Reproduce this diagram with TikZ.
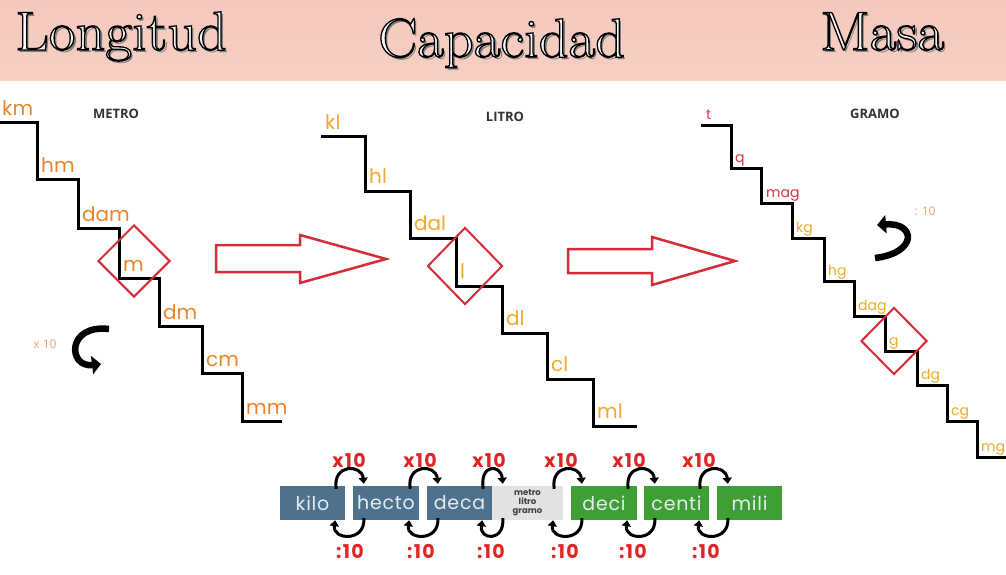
\documentclass[tikz,border=0pt]{standalone}
\usepackage{fontspec}
\usetikzlibrary{shapes.geometric,arrows.meta,calc}
\newfontfamily\labfont{Poppins}
\newfontfamily\boxfont[LetterSpace=4]{Poppins}
\newfontfamily\factorfont[LetterSpace=7]{Poppins}
\newfontfamily\capfont{Open Sans}
\newfontfamily\headfont[FakeStretch=1.06]{Latin Modern Roman}

\definecolor{banner}{RGB}{247,207,196}
\definecolor{bannertop}{RGB}{245,200,188}
\definecolor{lorange}{RGB}{234,132,42}
\definecolor{lyellow}{RGB}{240,168,48}
\definecolor{myellow}{RGB}{232,172,40}
\definecolor{mred}{RGB}{214,52,64}
\definecolor{pale}{RGB}{242,160,96}
\definecolor{arrred}{RGB}{212,44,56}
\definecolor{bluebox}{RGB}{78,114,142}
\definecolor{greenbox}{RGB}{62,160,52}
\definecolor{graybox}{RGB}{226,226,226}
\definecolor{boxtext}{RGB}{228,236,240}
\definecolor{factor}{RGB}{226,36,36}
\definecolor{shadowgray}{RGB}{125,125,125}
\definecolor{titlefill}{RGB}{246,246,246}

% engraved lettering: grey drop shadow, then white fill stroked in black
\newcommand{\engraved}[1]{%
  \rlap{\hspace{2.5pt}\raisebox{-2.5pt}{\color{shadowgray}#1}}%
  {\color{titlefill}%
  \special{pdf:literal direct 2 Tr 1.3 w 0 0 0 RG}#1%
  \special{pdf:literal direct 0 Tr}}}

\begin{document}
\begin{tikzpicture}[x=1pt,y=-1pt,
  headtxt/.style={anchor=base west,inner sep=0,font=\headfont\fontsize{55}{55}\selectfont},
  stair/.style={line width=3,black,line join=miter},
  biglbl/.style={anchor=base west,inner sep=0,font=\labfont\fontsize{20}{20}\selectfont},
  smalllbl/.style={anchor=base west,inner sep=0,font=\labfont\fontsize{14}{14}\selectfont},
  unitname/.style={inner sep=0,font=\capfont\bfseries\fontsize{13}{13}\selectfont,text=black!80},
  unitmark/.style={diamond,draw=arrred,line width=2,inner sep=0,aspect=1},
  hollow/.style={draw=arrred,line width=2.5,fill=white,line join=miter},
  bigturn/.style={line width=6.5,black,-{Triangle[length=9,width=18]}},
  prefixbox/.style={minimum width=65,minimum height=34,inner sep=0,
    font=\boxfont\fontsize{19}{19}\selectfont,text=boxtext},
  turnarc/.style={line width=3,black,-{Triangle[length=6,width=9]}},
  factorlbl/.style={inner sep=0,font=\factorfont\bfseries\fontsize{19}{19}\selectfont,text=factor},
  notelbl/.style={inner sep=0,font=\capfont\fontsize{12}{12}\selectfont,text=pale}]

\useasboundingbox (0,0) rectangle (1006,575);
\fill[white] (0,0) rectangle (1006,575);

% heading band
\shade[top color=bannertop,bottom color=banner] (0,0) rectangle (1006,81);
\foreach \t/\x/\y in {Longitud/15/50,Capacidad/378/57,Masa/820/50}
  \node[headtxt] (title-\t) at (\x,\y) {\engraved{\t}};

% ---- length: metre staircase
\draw[stair] (0,123) -| (37,179) -| (78,228) -| (119,278) -| (159,326)
  -| (202,373) -| (242,421) -- (282,421);
\foreach \u/\x/\y in {km/2/116,hm/41/172,dam/82/221,m/123/271,dm/163/319,cm/206/366,mm/246/414}
  \node[biglbl,text=lorange] (len-\u) at (\x,\y) {\u};
\node[unitname] (metro) at (116,114) {METRO};
\node[unitmark,minimum width=72,minimum height=72] (mark-m) at (134,261) {};
\node[notelbl] (x10note) at (45,344) {x 10};
\coordinate (up-a) at (109,329);
\coordinate (up-b) at (101,364);
\draw[bigturn] (up-a) .. controls (66,324) and (68,368) .. (up-b);

% hollow arrow between the groups
\draw[hollow] (216,245) -- (300,245) -- (300,235) -- (386,259) -- (300,283)
  -- (300,272) -- (216,272) -- cycle;

% ---- capacity: litre staircase
\draw[stair] (321,137) -| (365,191) -| (410,238) -| (456,286) -| (502,333)
  -| (547,379) -| (593,426) -- (637,426);
\foreach \u/\x/\y in {kl/325/129,hl/369/183,dal/414/230,l/460/278,dl/506/325,cl/551/371,ml/597/418}
  \node[biglbl,text=lyellow] (cap-\u) at (\x,\y) {\u};
\node[unitname] (litro) at (505,117) {LITRO};
\node[unitmark,minimum width=75,minimum height=77] (mark-l) at (465,266) {};

\draw[hollow] (568,249) -- (652,249) -- (652,237) -- (735,261) -- (652,285)
  -- (652,273) -- (568,273) -- cycle;

% ---- mass: gram staircase
\draw[stair] (701,126) -| (731,168) -| (761,203) -| (792,238) -| (824,281)
  -| (854,316) -| (885,351) -| (917,385) -| (947,421) -| (977,457) -- (1006,457);
\foreach \u/\x/\y in {t/706/120,q/735/162,mag/766/197}
  \node[smalllbl,text=mred] (mass-\u) at (\x,\y) {\u};
\foreach \u/\x/\y in {kg/796/232,hg/828/275,dag/858/310,g/889/345,dg/921/379,cg/951/415,mg/981/451}
  \node[smalllbl,text=myellow] (mass-\u) at (\x,\y) {\u};
\node[unitname] (gramo) at (875,114) {GRAMO};
\node[unitmark,minimum width=66,minimum height=67] (mark-g) at (894,341) {};
\node[notelbl] (div10note) at (925,211) {: 10};
\coordinate (dn-a) at (875,258);
\coordinate (dn-b) at (877,225);
\draw[bigturn] (dn-a) .. controls (918,253) and (916,222) .. (dn-b);

% ---- prefix strip
\node[prefixbox,fill=bluebox] (kilo) at (312.5,503) {kilo};
\node[prefixbox,fill=bluebox,minimum width=66] (hecto) at (386,503) {hecto};
\node[prefixbox,fill=bluebox] (deca) at (459.5,503) {deca};
\node[prefixbox,fill=graybox,minimum width=71,align=center,text=black!75,
  font=\labfont\bfseries\fontsize{8.5}{9}\selectfont] (base) at (527.5,503) {metro\\litro\\gramo};
\node[prefixbox,fill=greenbox,minimum width=66] (deci) at (604,503) {deci};
\node[prefixbox,fill=greenbox] (centi) at (676.5,503) {centi};
\node[prefixbox,fill=greenbox] (mili) at (749.5,503) {mili};

\foreach \a/\b/\mx/\dx [count=\i] in {kilo/hecto/349/350,hecto/deca/420/421,deca/base/489/491,
    base/deci/561/565,deci/centi/629/633,centi/mili/699/706}{
  \draw[turnarc] ($(\a.north east)+(-9,3)$) .. controls +(-4,-25) and +(-2,-20) .. ($(\b.north west)+(11,-2)$);
  \draw[turnarc] ($(\b.south west)+(11,-2)$) .. controls +(2,24) and +(-3,20) .. ($(\a.south east)+(-10,0)$);
  \node[factorlbl] (times-\i) at (\mx,460) {x10};
  \node[factorlbl] (div-\i) at (\dx,551) {:10};
}
\end{tikzpicture}
\end{document}
